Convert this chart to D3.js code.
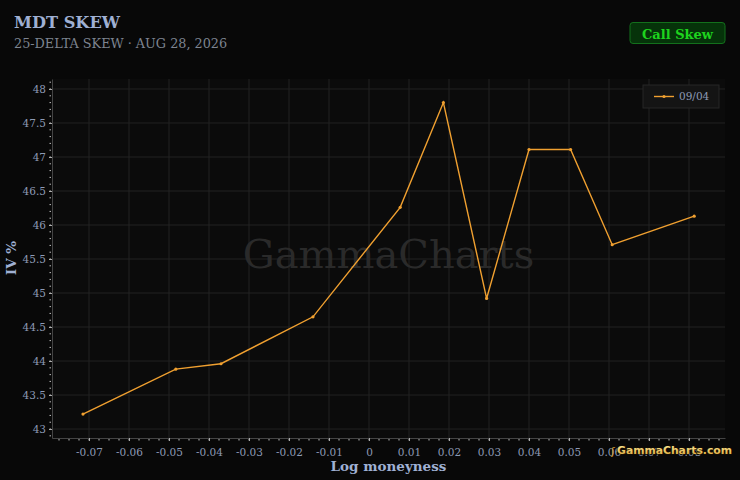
<!DOCTYPE html>
<html><head><meta charset="utf-8">
<script src="https://cdn.jsdelivr.net/npm/d3@7"></script>
<style>html,body{margin:0;padding:0;background:#080808;}svg{display:block;}</style>
</head><body>
<svg id="c" width="740" height="480"></svg>
<script>
const moneyness = [-0.0715, -0.0483, -0.0370, -0.0140, 0.0078, 0.0186, 0.0294, 0.0400, 0.0504, 0.0608, 0.0813];
const iv = [43.22, 43.88, 43.96, 44.65, 46.26, 47.80, 44.92, 47.11, 47.11, 45.71, 46.13];
const xTicks = [-0.07,-0.06,-0.05,-0.04,-0.03,-0.02,-0.01,0,0.01,0.02,0.03,0.04,0.05,0.06,0.07,0.08];
const yTicks = [43,43.5,44,44.5,45,45.5,46,46.5,47,47.5,48];
const seriesName = "09/04";

const svg = d3.select("#c");
const serif = "'DejaVu Serif', serif";
const L=52, R=725, T=79, B=438;
svg.append("rect").attr("width",740).attr("height",480).attr("fill","#080808");
svg.append("rect").attr("x",L).attr("y",T).attr("width",R-L).attr("height",B-T).attr("fill","#0b0b0b");

const x = d3.scaleLinear().domain([-0.07925, 0.089]).range([L,R]);
const y = d3.scaleLinear().domain([42.868, 48.147]).range([B,T]);

// grid
const g = svg.append("g");
g.selectAll(".vx").data(xTicks).join("line").attr("x1",d=>x(d)).attr("x2",d=>x(d)).attr("y1",T).attr("y2",B).attr("stroke","#222").attr("stroke-width",1);
g.selectAll(".hy").data(yTicks).join("line").attr("y1",d=>y(d)).attr("y2",d=>y(d)).attr("x1",L).attr("x2",R).attr("stroke","#222").attr("stroke-width",1);

// watermark
svg.append("text").attr("x",(L+R)/2).attr("y",268).attr("text-anchor","middle").attr("font-family",serif).attr("font-size",40).attr("fill","#2a2a2a").text("GammaCharts");

// axes
const xAxis = d3.axisBottom(x).tickValues(xTicks).tickFormat(d=>d===0?"0":String(+d.toFixed(2))).tickSize(3).tickSizeOuter(0);
const xg = svg.append("g").attr("transform",`translate(0,${B})`).call(xAxis);
const yAxis = d3.axisLeft(y).tickValues(yTicks).tickFormat(d=>String(d)).tickSize(3).tickSizeOuter(0);
const yg = svg.append("g").attr("transform",`translate(${L},0)`).call(yAxis);
[xg,yg].forEach(a=>{
  a.select(".domain").attr("stroke","#444");
  a.selectAll(".tick line").attr("stroke","#aaa");
  a.selectAll(".tick text").attr("fill","#8d9ab5").attr("font-family",serif).attr("font-size",10.5);
});
xg.selectAll(".tick text").attr("dy","1.1em");
// minor ticks
const xMinor = d3.range(-0.0775, 0.089, 0.0025);
svg.append("g").selectAll("line").data(xMinor).join("line").attr("x1",d=>x(d)).attr("x2",d=>x(d)).attr("y1",B+1).attr("y2",B+2.5).attr("stroke","#bbb");
const yMinor = d3.range(42.9, 48.15, 0.1);
svg.append("g").selectAll("line").data(yMinor).join("line").attr("y1",d=>y(d)).attr("y2",d=>y(d)).attr("x1",L-1).attr("x2",L-2.5).attr("stroke","#bbb");

// line
const data = moneyness.map((m,i)=>({m, v:iv[i]}));
svg.append("path").datum(data).attr("d",d3.line().x(d=>x(d.m)).y(d=>y(d.v))).attr("fill","none").attr("stroke","#f0a030").attr("stroke-width",1.4);
svg.append("g").selectAll("circle").data(data).join("circle").attr("cx",d=>x(d.m)).attr("cy",d=>y(d.v)).attr("r",1.6).attr("fill","#f0a030");

// legend
const lg = svg.append("g");
lg.append("rect").attr("x",643).attr("y",85).attr("width",76).attr("height",23).attr("fill","#141414").attr("stroke","#262626");
lg.append("line").attr("x1",654).attr("x2",674).attr("y1",96.5).attr("y2",96.5).attr("stroke","#f0a030").attr("stroke-width",1.4);
lg.append("circle").attr("cx",664).attr("cy",96.5).attr("r",1.6).attr("fill","#f0a030");
lg.append("text").attr("x",679).attr("y",100).attr("font-family",serif).attr("font-size",10.5).attr("fill","#8d9ab5").text(seriesName);

// titles
svg.append("text").attr("x",14).attr("y",28).attr("font-family",serif).attr("font-weight","bold").attr("font-size",16.2).attr("fill","#9fb0d3").text("MDT SKEW");
svg.append("text").attr("x",14).attr("y",48).attr("font-family",serif).attr("font-size",12.8).attr("fill","#7d8490").text("25-DELTA SKEW · AUG 28, 2026");

// button
svg.append("rect").attr("x",630).attr("y",22.5).attr("width",95).attr("height",21).attr("rx",3).attr("fill","#06330a").attr("stroke","#13701c");
svg.append("text").attr("x",677.5).attr("y",38.5).attr("text-anchor","middle").attr("font-family",serif).attr("font-weight","bold").attr("font-size",13).attr("fill","#1ed41e").text("Call Skew");

// axis titles
svg.append("text").attr("x",(L+R)/2).attr("y",471).attr("text-anchor","middle").attr("font-family",serif).attr("font-weight","bold").attr("font-size",13.5).attr("fill","#9fb0d3").text("Log moneyness");
svg.append("text").attr("transform","translate(16,258) rotate(-90)").attr("text-anchor","middle").attr("font-family",serif).attr("font-weight","bold").attr("font-size",13.5).attr("fill","#9fb0d3").text("IV %");

// corner brand
const defs = svg.append("defs");
const gr = defs.append("linearGradient").attr("id","gold").attr("x1",0).attr("y1",0).attr("x2",0).attr("y2",1);
gr.append("stop").attr("offset","0%").attr("stop-color","#fff0a0");
gr.append("stop").attr("offset","100%").attr("stop-color","#d8a030");
const br = svg.append("g");
br.append("text").attr("x",611).attr("y",455).attr("font-family","'DejaVu Sans', sans-serif").attr("font-size",11).attr("fill","#d8a030").text("ʃ");
br.append("text").attr("x",732).attr("y",454).attr("text-anchor","end").attr("font-family","'DejaVu Sans', sans-serif").attr("font-weight","bold").attr("font-size",10.8).attr("fill","url(#gold)").attr("stroke","#1a1000").attr("stroke-width",1.2).attr("paint-order","stroke").text("GammaCharts.com");
</script>
</body></html>
